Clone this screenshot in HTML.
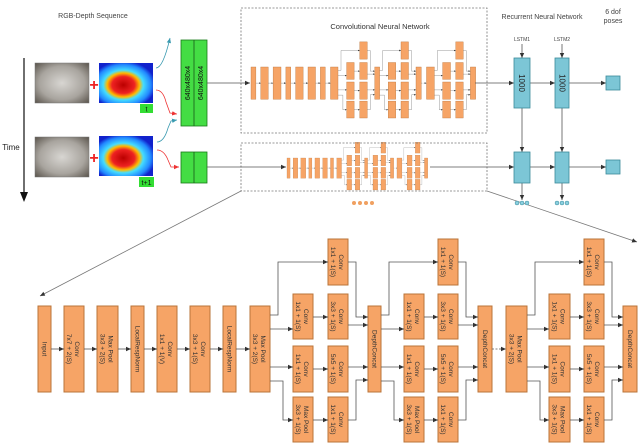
<!DOCTYPE html>
<html><head><meta charset="utf-8"><style>
html,body{margin:0;padding:0;background:#fff;}
svg{display:block;font-family:"Liberation Sans","DejaVu Sans",sans-serif;}
.o{fill:#f6a466;stroke:#b9743a;stroke-width:1;}
.l{fill:none;stroke:#555;stroke-width:0.8;}
.t{font-size:6.5px;fill:#333;text-anchor:middle;}
</style></head><body>
<svg width="640" height="444" viewBox="0 0 640 444" xmlns="http://www.w3.org/2000/svg">
<defs>
<marker id="a" markerWidth="6" markerHeight="6" refX="5" refY="3" orient="auto" markerUnits="userSpaceOnUse"><path d="M0,0.8 L5,3 L0,5.2z" fill="#333"/></marker>
<marker id="ar" markerWidth="6" markerHeight="6" refX="5" refY="3" orient="auto" markerUnits="userSpaceOnUse"><path d="M0,0.8 L5,3 L0,5.2z" fill="#e33"/></marker>
<marker id="ab" markerWidth="6" markerHeight="6" refX="5" refY="3" orient="auto" markerUnits="userSpaceOnUse"><path d="M0,0.8 L5,3 L0,5.2z" fill="#3a9ab0"/></marker>
<radialGradient id="hm" cx="0.45" cy="0.55" r="0.6">
<stop offset="0" stop-color="#b00"/><stop offset="0.35" stop-color="#e22"/><stop offset="0.5" stop-color="#fb0"/><stop offset="0.62" stop-color="#4df"/><stop offset="0.85" stop-color="#28f"/><stop offset="1" stop-color="#12c"/></radialGradient>
<radialGradient id="ph" cx="0.5" cy="0.5" r="0.7"><stop offset="0" stop-color="#d8d6d2"/><stop offset="0.6" stop-color="#a8a49e"/><stop offset="1" stop-color="#5a544c"/></radialGradient>
<g id="net">
<rect class="o" x="38" y="306" width="13" height="86"/>
<rect class="o" x="64" y="306" width="20" height="86"/>
<rect class="o" x="97" y="306" width="21" height="86"/>
<rect class="o" x="131" y="306" width="13" height="86"/>
<rect class="o" x="157" y="306" width="20" height="86"/>
<rect class="o" x="190" y="306" width="20" height="86"/>
<rect class="o" x="223" y="306" width="13" height="86"/>
<rect class="o" x="250" y="306" width="20" height="86"/>
<rect class="o" x="368" y="306" width="13" height="86"/>
<rect class="o" x="478" y="306" width="14" height="86"/>
<rect class="o" x="506" y="306" width="21" height="86"/>
<rect class="o" x="623" y="306" width="14" height="86"/>
<!-- columns A -->
<rect class="o" x="293" y="294" width="20" height="45"/><rect class="o" x="293" y="346" width="20" height="46"/><rect class="o" x="293" y="397" width="20" height="45"/>
<rect class="o" x="404" y="294" width="20" height="45"/><rect class="o" x="404" y="346" width="20" height="46"/><rect class="o" x="404" y="397" width="20" height="45"/>
<rect class="o" x="549" y="294" width="21" height="45"/><rect class="o" x="549" y="346" width="21" height="46"/><rect class="o" x="549" y="397" width="21" height="45"/>
<!-- columns B -->
<rect class="o" x="328" y="239" width="20" height="46"/><rect class="o" x="328" y="294" width="20" height="45"/><rect class="o" x="328" y="346" width="20" height="46"/><rect class="o" x="328" y="397" width="20" height="45"/>
<rect class="o" x="438" y="239" width="20" height="46"/><rect class="o" x="438" y="294" width="20" height="45"/><rect class="o" x="438" y="346" width="20" height="46"/><rect class="o" x="438" y="397" width="20" height="45"/>
<rect class="o" x="584" y="239" width="20" height="46"/><rect class="o" x="584" y="294" width="20" height="45"/><rect class="o" x="584" y="346" width="20" height="46"/><rect class="o" x="584" y="397" width="20" height="45"/>
<g class="l" marker-end="url(#a)">
<path d="M51,349H64"/><path d="M84,349H97"/><path d="M118,349H131"/><path d="M144,349H157"/><path d="M177,349H190"/><path d="M210,349H223"/><path d="M236,349H250"/><path d="M492,349H506" stroke-dasharray="2,1.5"/>
<!-- module 1 -->
<path d="M270,315H278V262H328"/><path d="M270,329H293"/><path d="M270,367H293"/><path d="M270,381H283V420H293"/>
<path d="M313,317H328"/><path d="M313,369H328"/><path d="M313,420H328"/>
<path d="M348,262H356V317H368"/><path d="M348,325H368"/><path d="M348,367H368"/><path d="M348,420H356V380H368"/>
<!-- module 2 -->
<path d="M381,315H389V262H438"/><path d="M381,329H404"/><path d="M381,367H404"/><path d="M381,381H394V420H404"/>
<path d="M424,317H438"/><path d="M424,369H438"/><path d="M424,420H438"/>
<path d="M458,262H466V317H478"/><path d="M458,325H478"/><path d="M458,367H478"/><path d="M458,420H466V380H478"/>
<!-- module 3 -->
<path d="M527,315H535V262H584"/><path d="M527,329H549"/><path d="M527,367H549"/><path d="M527,381H540V420H549"/>
<path d="M570,317H584"/><path d="M570,369H584"/><path d="M570,420H584"/>
<path d="M604,262H612V317H623"/><path d="M604,325H623"/><path d="M604,367H623"/><path d="M604,420H612V380H623"/>
</g>
</g>
</defs>

<use href="#net"/>
<g class="t">
<text transform="translate(44.5,349) rotate(90)" y="2">Input</text>
<text transform="translate(74,349) rotate(90)"><tspan x="0" y="-1">Conv</tspan><tspan x="0" y="7">7x7 + 2(S)</tspan></text>
<text transform="translate(107.5,349) rotate(90)"><tspan x="0" y="-1">Max Pool</tspan><tspan x="0" y="7">3x3 + 2(S)</tspan></text>
<text transform="translate(137.5,349) rotate(90)" y="2">LocalRespNorm</text>
<text transform="translate(167,349) rotate(90)"><tspan x="0" y="-1">Conv</tspan><tspan x="0" y="7">1x1 + 1(V)</tspan></text>
<text transform="translate(200,349) rotate(90)"><tspan x="0" y="-1">Conv</tspan><tspan x="0" y="7">3x3 + 1(S)</tspan></text>
<text transform="translate(229.5,349) rotate(90)" y="2">LocalRespNorm</text>
<text transform="translate(260,349) rotate(90)"><tspan x="0" y="-1">Max Pool</tspan><tspan x="0" y="7">3x3 + 2(S)</tspan></text>
<text transform="translate(374.5,349) rotate(90)" y="2">DepthConcat</text>
<text transform="translate(485,349) rotate(90)" y="2">DepthConcat</text>
<text transform="translate(516.5,349) rotate(90)"><tspan x="0" y="-1">Max Pool</tspan><tspan x="0" y="7">3x3 + 2(S)</tspan></text>
<text transform="translate(630,349) rotate(90)" y="2">DepthConcat</text>
<!-- col A -->
<text transform="translate(303,316.5) rotate(90)"><tspan x="0" y="-1">Conv</tspan><tspan x="0" y="7">1x1 + 1(S)</tspan></text>
<text transform="translate(303,369) rotate(90)"><tspan x="0" y="-1">Conv</tspan><tspan x="0" y="7">1x1 + 1(S)</tspan></text>
<text transform="translate(303,419.5) rotate(90)"><tspan x="0" y="-1">Max Pool</tspan><tspan x="0" y="7">3x3 + 1(S)</tspan></text>
<text transform="translate(414,316.5) rotate(90)"><tspan x="0" y="-1">Conv</tspan><tspan x="0" y="7">1x1 + 1(S)</tspan></text>
<text transform="translate(414,369) rotate(90)"><tspan x="0" y="-1">Conv</tspan><tspan x="0" y="7">1x1 + 1(S)</tspan></text>
<text transform="translate(414,419.5) rotate(90)"><tspan x="0" y="-1">Max Pool</tspan><tspan x="0" y="7">3x3 + 1(S)</tspan></text>
<text transform="translate(559.5,316.5) rotate(90)"><tspan x="0" y="-1">Conv</tspan><tspan x="0" y="7">1x1 + 1(S)</tspan></text>
<text transform="translate(559.5,369) rotate(90)"><tspan x="0" y="-1">Conv</tspan><tspan x="0" y="7">1x1 + 1(S)</tspan></text>
<text transform="translate(559.5,419.5) rotate(90)"><tspan x="0" y="-1">Max Pool</tspan><tspan x="0" y="7">3x3 + 1(S)</tspan></text>
<!-- col B -->
<text transform="translate(338,262) rotate(90)"><tspan x="0" y="-1">Conv</tspan><tspan x="0" y="7">1x1 + 1(S)</tspan></text>
<text transform="translate(338,316.5) rotate(90)"><tspan x="0" y="-1">Conv</tspan><tspan x="0" y="7">3x3 + 1(S)</tspan></text>
<text transform="translate(338,369) rotate(90)"><tspan x="0" y="-1">Conv</tspan><tspan x="0" y="7">5x5 + 1(S)</tspan></text>
<text transform="translate(338,419.5) rotate(90)"><tspan x="0" y="-1">Conv</tspan><tspan x="0" y="7">1x1 + 1(S)</tspan></text>
<text transform="translate(448,262) rotate(90)"><tspan x="0" y="-1">Conv</tspan><tspan x="0" y="7">1x1 + 1(S)</tspan></text>
<text transform="translate(448,316.5) rotate(90)"><tspan x="0" y="-1">Conv</tspan><tspan x="0" y="7">3x3 + 1(S)</tspan></text>
<text transform="translate(448,369) rotate(90)"><tspan x="0" y="-1">Conv</tspan><tspan x="0" y="7">5x5 + 1(S)</tspan></text>
<text transform="translate(448,419.5) rotate(90)"><tspan x="0" y="-1">Conv</tspan><tspan x="0" y="7">1x1 + 1(S)</tspan></text>
<text transform="translate(594,262) rotate(90)"><tspan x="0" y="-1">Conv</tspan><tspan x="0" y="7">1x1 + 1(S)</tspan></text>
<text transform="translate(594,316.5) rotate(90)"><tspan x="0" y="-1">Conv</tspan><tspan x="0" y="7">3x3 + 1(S)</tspan></text>
<text transform="translate(594,369) rotate(90)"><tspan x="0" y="-1">Conv</tspan><tspan x="0" y="7">5x5 + 1(S)</tspan></text>
<text transform="translate(594,419.5) rotate(90)"><tspan x="0" y="-1">Conv</tspan><tspan x="0" y="7">1x1 + 1(S)</tspan></text>
</g>

<!-- small copies of net -->
<use href="#net" transform="translate(251,67) scale(0.375) translate(-38,-306)"/>
<use href="#net" transform="translate(287,158) scale(0.235) translate(-38,-306)"/>

<!-- dashed boxes -->
<rect x="241" y="8" width="246" height="125" fill="none" stroke="#777" stroke-width="0.8" stroke-dasharray="2,1.5"/>
<rect x="241" y="143" width="246" height="48" fill="none" stroke="#777" stroke-width="0.8" stroke-dasharray="2,1.5"/>
<text x="380" y="29" font-size="7.5" fill="#333" text-anchor="middle">Convolutional Neural Network</text>
<line x1="241" y1="191" x2="40" y2="296" stroke="#777" stroke-width="0.8" marker-end="url(#a)"/>
<line x1="487" y1="191" x2="637" y2="242" stroke="#777" stroke-width="0.8" marker-end="url(#a)"/>

<!-- left: images -->
<text x="93" y="18" font-size="7" fill="#444" text-anchor="middle">RGB-Depth Sequence</text>
<line x1="24" y1="58" x2="24" y2="196" stroke="#222" stroke-width="1.3"/>
<path d="M20,192 L24,202 L28,192z" fill="#111"/>
<text x="11" y="150" font-size="8" fill="#222" text-anchor="middle">Time</text>
<rect x="35" y="63" width="54" height="40" fill="url(#ph)" stroke="#777" stroke-width="0.5"/>
<rect x="35" y="137" width="54" height="40" fill="url(#ph)" stroke="#777" stroke-width="0.5"/>
<rect x="99" y="63" width="54" height="40" fill="url(#hm)"/>
<rect x="99" y="136" width="54" height="40" fill="url(#hm)"/>
<text x="94" y="90" font-size="16" font-weight="bold" fill="#e22" text-anchor="middle">+</text>
<text x="94" y="163" font-size="16" font-weight="bold" fill="#e22" text-anchor="middle">+</text>
<rect x="140" y="104" width="13" height="9" fill="#3d3"/>
<text x="146.5" y="111.5" font-size="7" fill="#111" text-anchor="middle">t</text>
<rect x="139" y="177" width="15" height="10" fill="#3d3"/>
<text x="146.5" y="185" font-size="7" fill="#111" text-anchor="middle">t+1</text>
<path d="M156,68 Q163,68 170,38" fill="none" stroke="#3a9ab0" stroke-width="0.8" marker-end="url(#ab)"/>
<path d="M156,90 Q163,90 166,102 L170,113 L177,114" fill="none" stroke="#e33" stroke-width="0.8" marker-end="url(#ar)"/>
<path d="M157,142 Q164,142 168,128 L171,121 L177,120" fill="none" stroke="#3a9ab0" stroke-width="0.8" marker-end="url(#ab)"/>
<path d="M157,150 Q164,150 168,160 L171,167 L179,167" fill="none" stroke="#e33" stroke-width="0.8" marker-end="url(#ar)"/>

<!-- green -->
<rect x="181" y="40" width="26" height="86" fill="#4d4" stroke="#1a7a1a" stroke-width="0.8"/>
<line x1="194" y1="40" x2="194" y2="126" stroke="#1a5a1a" stroke-width="0.8"/>
<text transform="translate(190,83) rotate(-90)" font-size="7" fill="#111" text-anchor="middle">640x480x4</text>
<text transform="translate(203,83) rotate(-90)" font-size="7" fill="#111" text-anchor="middle">640x480x4</text>
<rect x="181" y="152" width="26" height="31" fill="#4d4" stroke="#1a7a1a" stroke-width="0.8"/>
<line x1="194" y1="152" x2="194" y2="183" stroke="#1a5a1a" stroke-width="0.8"/>
<line x1="207" y1="83" x2="250" y2="83" stroke="#555" stroke-width="0.8" marker-end="url(#a)"/>
<line x1="207" y1="167" x2="286" y2="167" stroke="#555" stroke-width="0.8" marker-end="url(#a)"/>
<line x1="475" y1="83" x2="514" y2="83" stroke="#555" stroke-width="0.8" marker-end="url(#a)"/>
<line x1="430" y1="167" x2="514" y2="167" stroke="#555" stroke-width="0.8" marker-end="url(#a)"/>

<!-- orange dots -->
<g fill="#f0a060"><circle cx="354" cy="203" r="2"/><circle cx="360" cy="203" r="2"/><circle cx="366" cy="203" r="2"/><circle cx="372" cy="203" r="2"/></g>

<!-- RNN -->
<text x="542" y="19" font-size="7" fill="#444" text-anchor="middle">Recurrent Neural Network</text>
<text x="613" y="14" font-size="7" fill="#444" text-anchor="middle">6 dof</text>
<text x="613" y="23" font-size="7" fill="#444" text-anchor="middle">poses</text>
<text x="522" y="41" font-size="5" fill="#444" text-anchor="middle">LSTM1</text>
<text x="562" y="41" font-size="5" fill="#444" text-anchor="middle">LSTM2</text>
<g stroke="#555" stroke-width="0.8" marker-end="url(#a)">
<line x1="522" y1="44" x2="522" y2="58"/><line x1="562" y1="44" x2="562" y2="58"/>
<line x1="530" y1="83" x2="555" y2="83"/><line x1="569" y1="83" x2="606" y2="83"/>
<line x1="530" y1="167" x2="555" y2="167"/><line x1="569" y1="167" x2="606" y2="167"/>
<line x1="522" y1="108" x2="522" y2="152"/><line x1="562" y1="108" x2="562" y2="152"/>
<line x1="522" y1="183" x2="522" y2="200"/><line x1="562" y1="183" x2="562" y2="200"/>
</g>
<g fill="#7cc6d6" stroke="#3a8a9a" stroke-width="0.8">
<rect x="514" y="58" width="16" height="50"/><rect x="555" y="58" width="14" height="50"/>
<rect x="514" y="152" width="16" height="31"/><rect x="555" y="152" width="14" height="31"/>
<rect x="606" y="76" width="14" height="14"/><rect x="606" y="160" width="14" height="14"/>
</g>
<text transform="translate(519,83) rotate(90)" font-size="8" fill="#222" text-anchor="middle">1000</text>
<text transform="translate(559.5,83) rotate(90)" font-size="8" fill="#222" text-anchor="middle">1000</text>
<g fill="#8cd0e0" stroke="#3a8a9a" stroke-width="0.5">
<circle cx="517" cy="203" r="2"/><circle cx="522" cy="203" r="2"/><circle cx="527" cy="203" r="2"/>
<circle cx="557" cy="203" r="2"/><circle cx="562" cy="203" r="2"/><circle cx="567" cy="203" r="2"/>
</g>
</svg>
</body></html>
